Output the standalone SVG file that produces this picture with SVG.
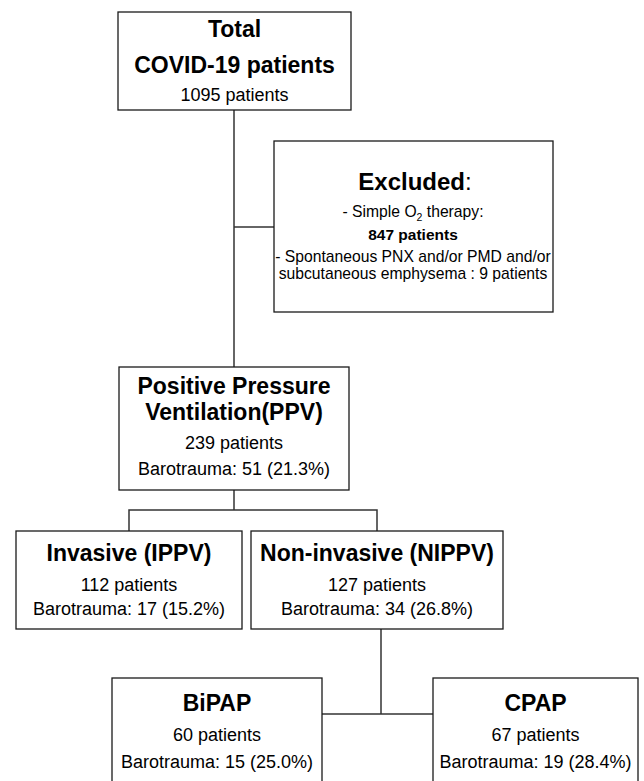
<svg xmlns="http://www.w3.org/2000/svg" width="644" height="781" viewBox="0 0 644 781">
<style>
.box{fill:#fff;stroke:#1a1a1a;stroke-width:1.3}
.conn{fill:none;stroke:#333;stroke-width:1.5}
text{font-family:"Liberation Sans",Arial,sans-serif;fill:#000;text-anchor:middle}
.t{font-weight:bold;font-size:23px}
.n{font-size:18px}
.s{font-size:15.7px}
.sb{font-size:15.5px;font-weight:bold}
</style>
<rect width="644" height="781" fill="#fff"/>
<g id="connectors">
<path class="conn" d="M234,110 V367"/>
<path class="conn" d="M234,227 H274"/>
<path class="conn" d="M234,490 V510"/>
<path class="conn" d="M129,531 V510 H377 V531"/>
<path class="conn" d="M381,629 V714"/>
<path class="conn" d="M322,714 H433"/>
</g>
<g id="total">
<rect class="box" x="118" y="12" width="233" height="98"/>
<text class="t" x="234.5" y="37">Total</text>
<text class="t" x="234.5" y="73">COVID-19 patients</text>
<text class="n" x="234.5" y="101">1095 patients</text>
</g>
<g id="excluded">
<rect class="box" x="274" y="141" width="279" height="171"/>
<text x="415" y="190" style="font-size:24px"><tspan font-weight="bold">Excluded</tspan>:</text>
<text class="s" x="413" y="217">- Simple O<tspan font-size="10.5px" dy="4">2</tspan><tspan dy="-4"> therapy:</tspan></text>
<text class="sb" x="413" y="240">847 patients</text>
<text class="s" x="413" y="262">- Spontaneous PNX and/or PMD and/or</text>
<text class="s" x="413" y="279">subcutaneous emphysema : 9 patients</text>
</g>
<g id="ppv">
<rect class="box" x="119" y="367" width="230" height="123"/>
<text class="t" x="234" y="394">Positive Pressure</text>
<text class="t" x="234" y="420">Ventilation(PPV)</text>
<text class="n" x="234" y="449">239 patients</text>
<text class="n" x="234" y="475">Barotrauma: 51 (21.3%)</text>
</g>
<g id="invasive">
<rect class="box" x="16" y="531" width="226" height="98"/>
<text class="t" x="129" y="561">Invasive (IPPV)</text>
<text class="n" x="129" y="591">112 patients</text>
<text class="n" x="129" y="615">Barotrauma: 17 (15.2%)</text>
</g>
<g id="noninvasive">
<rect class="box" x="251" y="531" width="252" height="98"/>
<text class="t" x="377" y="561">Non-invasive (NIPPV)</text>
<text class="n" x="377" y="591">127 patients</text>
<text class="n" x="377" y="615">Barotrauma: 34 (26.8%)</text>
</g>
<g id="bipap">
<rect class="box" x="112" y="678" width="210" height="120"/>
<text class="t" x="217" y="711">BiPAP</text>
<text class="n" x="217" y="741">60 patients</text>
<text class="n" x="217" y="768">Barotrauma: 15 (25.0%)</text>
</g>
<g id="cpap">
<rect class="box" x="433" y="678" width="205" height="120"/>
<text class="t" x="535.5" y="711">CPAP</text>
<text class="n" x="535.5" y="741">67 patients</text>
<text class="n" x="535.5" y="768">Barotrauma: 19 (28.4%)</text>
</g>
</svg>
